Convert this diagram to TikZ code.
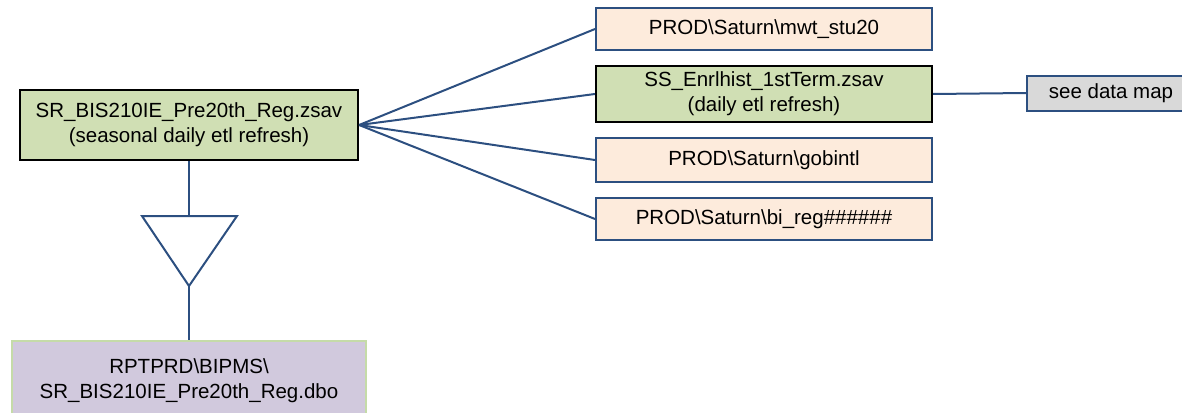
\documentclass[tikz,border=0pt]{standalone}
\usepackage{fontspec}
\setmainfont{Liberation Sans}
\definecolor{lnblue}{HTML}{2C4F80}
\definecolor{gfill}{HTML}{D0DFB4}
\definecolor{pfill}{HTML}{FDEBDC}
\definecolor{grayfill}{HTML}{D9D9D9}
\definecolor{lavfill}{HTML}{D1C9DD}
\definecolor{lgreen}{HTML}{C5DBA8}
\tikzset{
  box/.style={rectangle, inner sep=0pt, align=center, font=\fontsize{20.5}{25}\selectfont, text=black},
  greenbox/.style={box, fill=gfill, draw=black, line width=2.2pt},
  peachbox/.style={box, fill=pfill, draw=lnblue, line width=2pt},
  graybox/.style={box, fill=grayfill, draw=lnblue, line width=2pt},
  lavbox/.style={box, fill=lavfill, draw=lgreen, line width=1.5pt},
  conn/.style={draw=lnblue, line width=2pt},
}
\begin{document}
\begin{tikzpicture}[x=1pt,y=-1pt]
\useasboundingbox (0,0) rectangle (1182,412);
\clip (0,0) rectangle (1182,412);
\node[greenbox, minimum width=338pt, minimum height=70pt] (src) at (189,125) {SR\_BIS210IE\_Pre20th\_Reg.zsav\\(seasonal daily etl refresh)};
\node[peachbox, minimum width=336pt, minimum height=42pt] (p1) at (764,29) {PROD\textbackslash Saturn\textbackslash mwt\_stu20};
\node[greenbox, minimum width=336pt, minimum height=56pt] (p2) at (764,94) {SS\_Enrlhist\_1stTerm.zsav\\(daily etl refresh)};
\node[peachbox, minimum width=336pt, minimum height=44pt] (p3) at (764,160) {PROD\textbackslash Saturn\textbackslash gobintl};
\node[peachbox, minimum width=336pt, minimum height=42pt] (p4) at (764,219) {PROD\textbackslash Saturn\textbackslash bi\_reg\#\#\#\#\#\#};
\node[graybox, minimum width=168pt, minimum height=35pt] (dm) at (1111,93) {see data map};
\node[lavbox, minimum width=354pt, minimum height=80pt] (dbo) at (189,381) {RPTPRD\textbackslash BIPMS\textbackslash\\SR\_BIS210IE\_Pre20th\_Reg.dbo};
\coordinate (tl) at (142,216);
\coordinate (tr) at (237,216);
\coordinate (tm) at (189,216);
\coordinate (ta) at (189,286);
\draw[conn, line join=miter] (tl) -- (tr) -- (ta) -- cycle;
\draw[conn] (src.south) -- (tm);
\draw[conn] (ta) -- (dbo.north);
\draw[conn] (src.east) -- (p1.west);
\draw[conn] (src.east) -- (p2.west);
\draw[conn] (src.east) -- (p3.west);
\draw[conn] (src.east) -- (p4.west);
\draw[conn] (p2.east) -- (dm.west);
\end{tikzpicture}
\end{document}
